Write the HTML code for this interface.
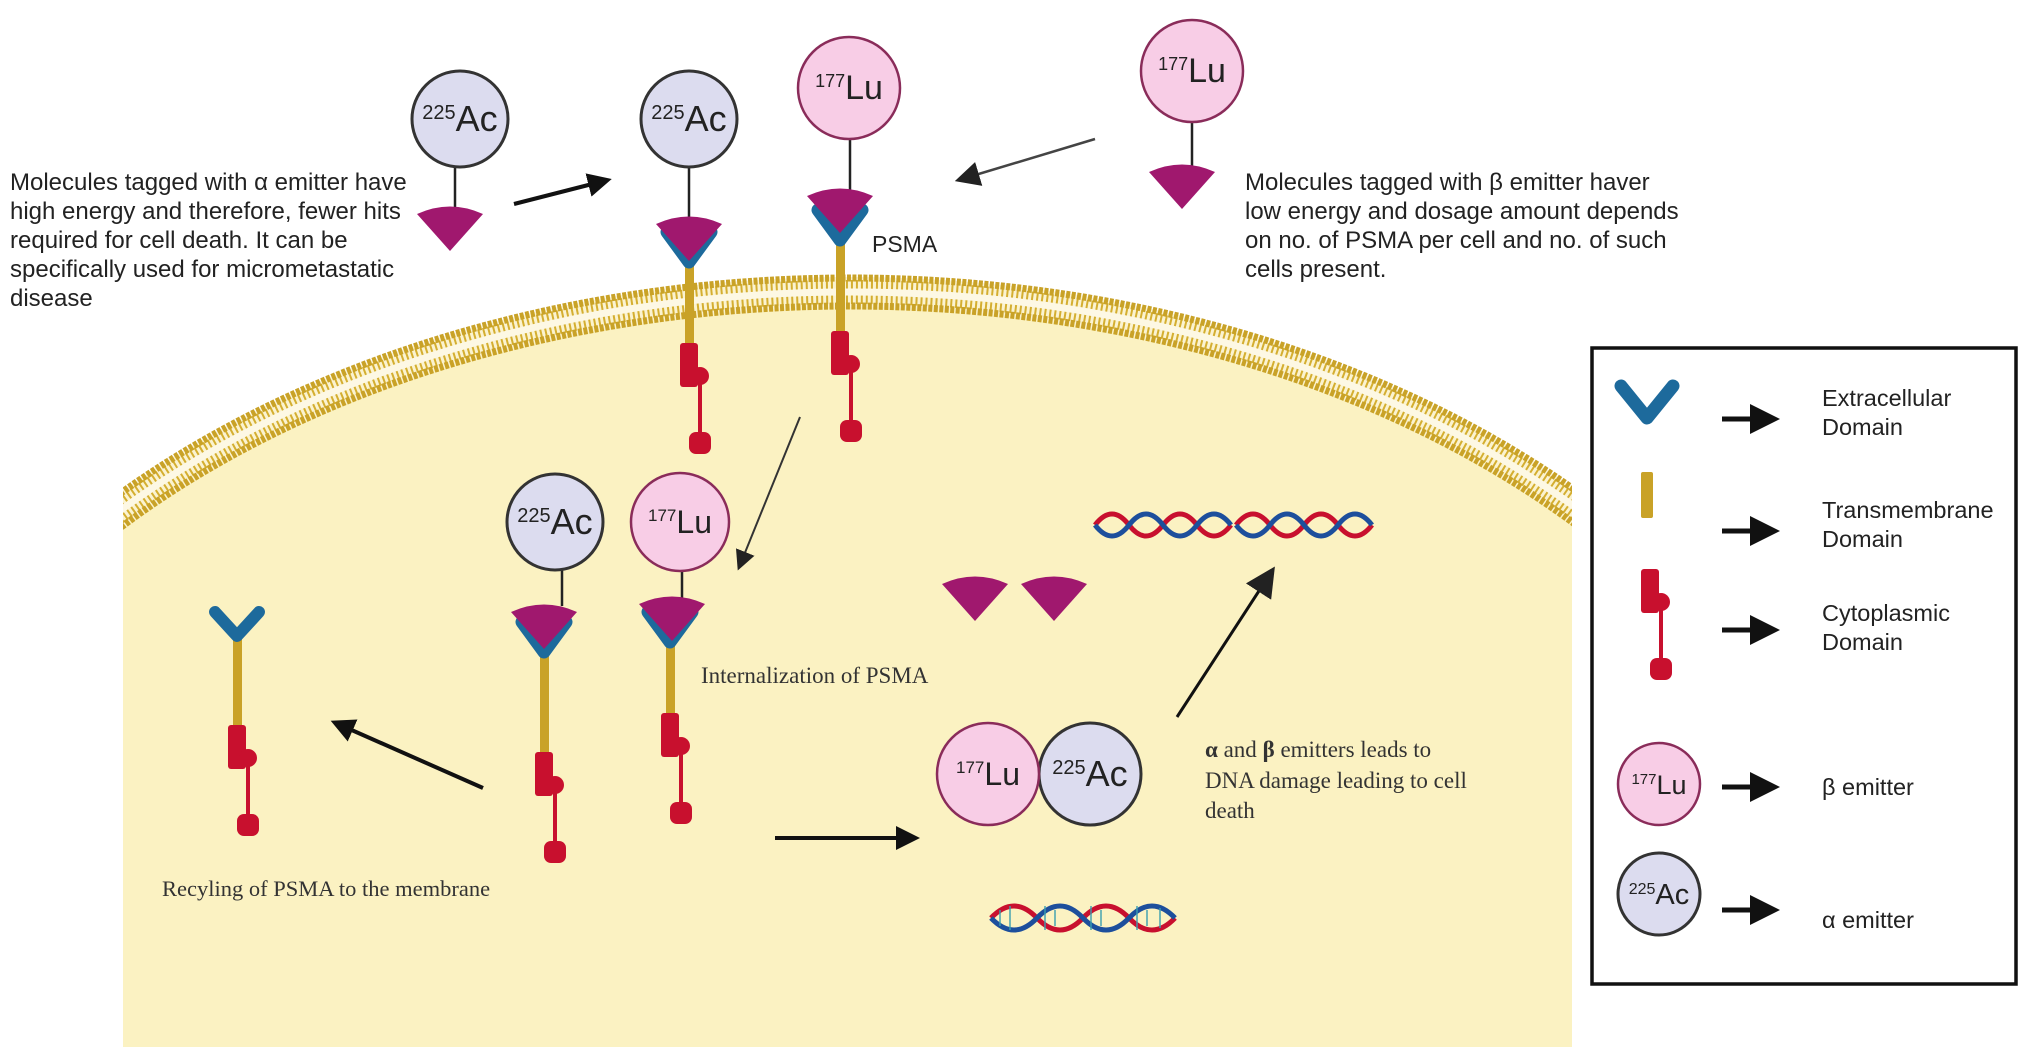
<!DOCTYPE html>
<html><head><meta charset="utf-8"><style>
html,body{margin:0;padding:0;background:#fff;width:2032px;height:1064px;overflow:hidden;}
svg{display:block;}
.s{font-family:"Liberation Sans",sans-serif;fill:#222;}
.r{font-family:"Liberation Serif",serif;fill:#333;}
</style></head><body>
<svg width="2032" height="1064" viewBox="0 0 2032 1064" xmlns="http://www.w3.org/2000/svg">
<defs>
<clipPath id="cell"><rect x="123" y="0" width="1449" height="1047"/></clipPath>
<marker id="ah" markerWidth="6" markerHeight="6" refX="4" refY="3" orient="auto" markerUnits="strokeWidth"><path d="M0,0 L6,3 L0,6 Z" fill="#111"/></marker>
<marker id="ah2" markerWidth="10" markerHeight="10" refX="7" refY="5" orient="auto" markerUnits="strokeWidth"><path d="M0,0 L10,5 L0,10 Z" fill="#222"/></marker>
<g id="lig"><path d="M-33,-12 Q0,-27 33,-12 L0,25 Z" fill="#a0186e"/></g>
<g id="vee"><polyline points="-22,-26 0,4 22,-26" fill="none" stroke="#1d6a9c" stroke-width="13" stroke-linejoin="round" stroke-linecap="round"/></g>
<g id="red">
<rect x="-9" y="0" width="18" height="44" rx="3" fill="#c8102e"/>
<circle cx="11" cy="33" r="9" fill="#c8102e"/>
<line x1="11" y1="33" x2="11" y2="100" stroke="#c8102e" stroke-width="4"/>
<rect x="0" y="89" width="22" height="22" rx="7" fill="#c8102e"/>
</g>
</defs>

<g clip-path="url(#cell)">
<ellipse cx="850" cy="1000" rx="1010" ry="708" fill="#fbf2c2"/>
<rect x="123" y="1000" width="1449" height="47" fill="#fbf2c2"/>
<ellipse cx="850" cy="1000" rx="1010" ry="708" fill="none" stroke="#fbf3d0" stroke-width="30"/>
<ellipse cx="850" cy="1000" rx="1010" ry="708" fill="none" stroke="#d4ae30" stroke-width="24" stroke-dasharray="2 3"/>
<ellipse cx="850" cy="1000" rx="1010" ry="708" fill="none" stroke="#fdf8e4" stroke-width="7"/>
<ellipse cx="850" cy="1000" rx="1024" ry="722" fill="none" stroke="#c9a227" stroke-width="7" stroke-dasharray="4 1.5"/>
<ellipse cx="850" cy="1000" rx="996" ry="694" fill="none" stroke="#c9a227" stroke-width="7" stroke-dasharray="4 1.5"/>
</g>

<line x1="455" y1="168" x2="455" y2="210" stroke="#222" stroke-width="2.5"/>
<use href="#lig" x="450" y="226"/>
<circle cx="460" cy="119" r="48" fill="#dcdcef" stroke="#333" stroke-width="3"/>
<text x="460" y="131" class="s" font-size="36" text-anchor="middle"><tspan font-size="20" dy="-12">225</tspan><tspan dy="12">Ac</tspan></text>

<rect x="685" y="255" width="9" height="90" fill="#c9a227"/>
<use href="#red" x="689" y="343"/>
<use href="#vee" x="689" y="258"/>
<line x1="689" y1="168" x2="689" y2="218" stroke="#222" stroke-width="2.5"/>
<use href="#lig" x="689" y="236"/>
<circle cx="689" cy="119" r="48" fill="#dcdcef" stroke="#333" stroke-width="3"/>
<text x="689" y="131" class="s" font-size="36" text-anchor="middle"><tspan font-size="20" dy="-12">225</tspan><tspan dy="12">Ac</tspan></text>

<rect x="836" y="233" width="9" height="112" fill="#c9a227"/>
<use href="#red" x="840" y="331"/>
<use href="#vee" x="840" y="236"/>
<line x1="850" y1="140" x2="850" y2="192" stroke="#222" stroke-width="2.5"/>
<use href="#lig" x="840" y="208"/>
<circle cx="849" cy="88" r="51" fill="#f8cde6" stroke="#8a2c5a" stroke-width="2.5"/>
<text x="849" y="99" class="s" font-size="34" text-anchor="middle"><tspan font-size="18" dy="-12">177</tspan><tspan dy="12">Lu</tspan></text>
<text x="872" y="252" class="s" font-size="23">PSMA</text>

<line x1="1192" y1="122" x2="1192" y2="168" stroke="#222" stroke-width="2.5"/>
<use href="#lig" x="1182" y="184"/>
<circle cx="1192" cy="71" r="51" fill="#f8cde6" stroke="#8a2c5a" stroke-width="2.5"/>
<text x="1192" y="82" class="s" font-size="34" text-anchor="middle"><tspan font-size="18" dy="-12">177</tspan><tspan dy="12">Lu</tspan></text>

<line x1="514" y1="204" x2="604" y2="181" stroke="#111" stroke-width="4" marker-end="url(#ah)"/>
<line x1="1095" y1="139" x2="962" y2="179" stroke="#444" stroke-width="2.5" marker-end="url(#ah2)"/>

<g class="s" font-size="24">
<text x="10" y="190">Molecules tagged with α emitter have</text>
<text x="10" y="219">high energy and therefore, fewer hits</text>
<text x="10" y="248">required for cell death. It can be</text>
<text x="10" y="277">specifically used for micrometastatic</text>
<text x="10" y="306">disease</text>
<text x="1245" y="190">Molecules tagged with β emitter haver</text>
<text x="1245" y="219">low energy and dosage amount depends</text>
<text x="1245" y="248">on no. of PSMA per cell and no. of such</text>
<text x="1245" y="277">cells present.</text>
</g>

<line x1="800" y1="417" x2="740" y2="565" stroke="#333" stroke-width="2" marker-end="url(#ah2)"/>

<rect x="540" y="645" width="9" height="115" fill="#c9a227"/>
<use href="#red" x="544" y="752"/>
<use href="#vee" x="544" y="648"/>
<line x1="562" y1="570" x2="562" y2="606" stroke="#222" stroke-width="2.5"/>
<use href="#lig" x="544" y="624"/>
<circle cx="555" cy="522" r="48" fill="#dcdcef" stroke="#333" stroke-width="3"/>
<text x="555" y="534" class="s" font-size="36" text-anchor="middle"><tspan font-size="20" dy="-12">225</tspan><tspan dy="12">Ac</tspan></text>

<rect x="666" y="634" width="9" height="88" fill="#c9a227"/>
<use href="#red" x="670" y="713"/>
<use href="#vee" x="670" y="638"/>
<line x1="682" y1="572" x2="682" y2="600" stroke="#222" stroke-width="2.5"/>
<use href="#lig" x="672" y="616"/>
<circle cx="680" cy="522" r="49" fill="#f8cde6" stroke="#8a2c5a" stroke-width="2.5"/>
<text x="680" y="533" class="s" font-size="32" text-anchor="middle"><tspan font-size="17" dy="-12">177</tspan><tspan dy="12">Lu</tspan></text>
<text x="701" y="683" class="r" font-size="23">Internalization of PSMA</text>

<rect x="233" y="630" width="9" height="100" fill="#c9a227"/>
<use href="#red" x="237" y="725"/>
<polyline points="215,612 237,636 259,612" fill="none" stroke="#1d6a9c" stroke-width="12" stroke-linecap="round" stroke-linejoin="round"/>
<line x1="483" y1="788" x2="338" y2="724" stroke="#111" stroke-width="4" marker-end="url(#ah)"/>
<text x="162" y="896" class="r" font-size="22.5">Recyling of PSMA to the membrane</text>

<line x1="775" y1="838" x2="912" y2="838" stroke="#111" stroke-width="4" marker-end="url(#ah)"/>

<circle cx="1090" cy="774" r="51" fill="#dcdcef" stroke="#333" stroke-width="3"/>
<text x="1090" y="786" class="s" font-size="36" text-anchor="middle"><tspan font-size="20" dy="-12">225</tspan><tspan dy="12">Ac</tspan></text>
<circle cx="988" cy="774" r="51" fill="#f8cde6" stroke="#8a2c5a" stroke-width="2.5"/>
<text x="988" y="785" class="s" font-size="32" text-anchor="middle"><tspan font-size="17" dy="-12">177</tspan><tspan dy="12">Lu</tspan></text>

<use href="#lig" x="975" y="596"/>
<use href="#lig" x="1054" y="596"/>

<g fill="none" stroke-width="5">
<path d="M1095,525 q17,-22 34,0 t34,0 t34,0 t34,0" stroke="#c8102e"/>
<path d="M1095,525 q17,22 34,0 t34,0 t34,0 t34,0" stroke="#1d4f9c"/>
<path d="M1236,525 q17,-22 34,0 t34,0 t34,0 t34,0" stroke="#c8102e"/>
<path d="M1236,525 q17,22 34,0 t34,0 t34,0 t34,0" stroke="#1d4f9c"/>
<path d="M991,918 q23,-24 46,0 t46,0 t46,0 t46,0" stroke="#c8102e"/>
<path d="M991,918 q23,24 46,0 t46,0 t46,0 t46,0" stroke="#1d4f9c"/>
</g>
<g stroke="#3a9fb0" stroke-width="2" opacity="0.7">
<path d="M1000,910 v16 M1010,906 v24 M1045,906 v24 M1055,910 v16 M1091,906 v24 M1101,910 v16 M1137,906 v24 M1147,910 v16 M1160,908 v20"/>
</g>
<line x1="1177" y1="717" x2="1270" y2="574" stroke="#111" stroke-width="3" marker-end="url(#ah2)"/>
<g class="r" font-size="23">
<text x="1205" y="757"><tspan font-weight="bold">α</tspan> and <tspan font-weight="bold">β</tspan> emitters leads to</text>
<text x="1205" y="788">DNA damage leading to cell</text>
<text x="1205" y="818">death</text>
</g>

<rect x="1592" y="348" width="424" height="636" fill="#fff" stroke="#111" stroke-width="3.5"/>
<polyline points="1621,386 1647,418 1673,386" fill="none" stroke="#1d6a9c" stroke-width="13" stroke-linecap="round" stroke-linejoin="round"/>
<rect x="1641" y="472" width="12" height="46" rx="2" fill="#c9a227"/>
<use href="#red" x="1650" y="569"/>
<circle cx="1659" cy="784" r="41" fill="#f8cde6" stroke="#8a2c5a" stroke-width="2.5"/>
<text x="1659" y="794" class="s" font-size="27" text-anchor="middle"><tspan font-size="15" dy="-10">177</tspan><tspan dy="10">Lu</tspan></text>
<circle cx="1659" cy="894" r="41" fill="#dcdcef" stroke="#333" stroke-width="3"/>
<text x="1659" y="904" class="s" font-size="29" text-anchor="middle"><tspan font-size="16" dy="-10">225</tspan><tspan dy="10">Ac</tspan></text>
<g stroke="#111" stroke-width="5">
<line x1="1722" y1="419" x2="1770" y2="419" marker-end="url(#ah)"/>
<line x1="1722" y1="531" x2="1770" y2="531" marker-end="url(#ah)"/>
<line x1="1722" y1="630" x2="1770" y2="630" marker-end="url(#ah)"/>
<line x1="1722" y1="787" x2="1770" y2="787" marker-end="url(#ah)"/>
<line x1="1722" y1="910" x2="1770" y2="910" marker-end="url(#ah)"/>
</g>
<g class="s" font-size="23.5">
<text x="1822" y="406">Extracellular</text>
<text x="1822" y="435">Domain</text>
<text x="1822" y="518">Transmembrane</text>
<text x="1822" y="547">Domain</text>
<text x="1822" y="621">Cytoplasmic</text>
<text x="1822" y="650">Domain</text>
<text x="1822" y="795">β emitter</text>
<text x="1822" y="928">α emitter</text>
</g>
</svg>
</body></html>
